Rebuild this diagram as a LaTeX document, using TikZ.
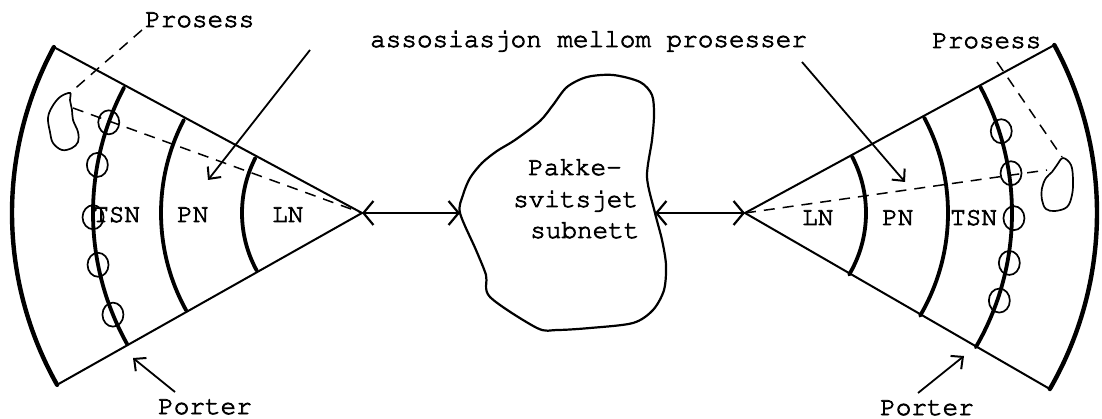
\documentclass[tikz,border=0pt]{standalone}
\usepackage[T1]{fontenc}
\usepackage{courier}
\renewcommand{\familydefault}{\ttdefault}
\usetikzlibrary{arrows.meta}
% typewriter text with a slightly heavier stroke
\newcommand{\typed}[1]{\special{pdf:literal direct 2 Tr 0.75 w}#1\special{pdf:literal direct 0 Tr}}
\begin{document}
\begin{tikzpicture}[x=1pt,y=-1pt,
  edge/.style={line width=2pt, line cap=round},
  layer/.style={line width=3.8pt, line cap=round},
  rim/.style={line width=4.4pt, line cap=round},
  port/.style={line width=1.7pt},
  link/.style={dash pattern=on 11pt off 8pt, line width=1.5pt},
  pointer/.style={line width=1.8pt, -{Straight Barb[length=9pt,width=17pt,line width=2pt]}},
  bus/.style={line width=2.2pt, {Straight Barb[length=10pt,width=24pt,line width=2.2pt]}-{Straight Barb[length=10pt,width=24pt,line width=2.2pt]}},
  lbl/.style={inner sep=0pt, font=\fontsize{26}{31.5}\selectfont, anchor=base west},
]
\useasboundingbox (0,0) rectangle (1102,419);

% ---------- left sector (apex LA) ----------
\coordinate (LA) at (362,213);
\coordinate (LU) at ({362+350*cos(208.3)},{213+350*sin(208.3)});
\coordinate (LD) at ({362+350*cos(150.6)},{213+350*sin(150.6)});
\draw[edge] (LU) -- (LA) -- (LD);
\draw[rim] plot[domain=208.3:150.6, samples=60] ({362+350*cos(\x)},{213+350*sin(\x)});
\draw[layer] plot[domain=207.8:150.8, samples=60] ({362+269*cos(\x)},{213+269*sin(\x)});
\draw[layer] plot[domain=207.6:151.0, samples=50] ({362+201*cos(\x)},{213+201*sin(\x)});
\draw[layer] plot[domain=207.3:151.3, samples=40] ({362+120*cos(\x)},{213+120*sin(\x)});
\foreach \a in {199.7,190.3,179.1,168.9,157.8}
  \draw[port] ({362+269*cos(\a)},{213+269*sin(\a)}) ellipse [x radius=10.5pt, y radius=12pt];

% process blob, left
\draw[port] plot[smooth cycle, tension=0.6] coordinates {
  (70,93) (60,97) (52,107) (48,118) (50,132) (53,143) (62,150)
  (72,148) (78,142) (78,132) (73,120) (72,110) (70,100)};
\coordinate (LB) at (73,108);
\coordinate (LBt) at (70,93);

% ---------- right sector (apex RA) ----------
\coordinate (RA) at (745,213);
\coordinate (RU) at ({745+352*cos(-28.5)},{213+352*sin(-28.5)});
\coordinate (RD) at ({745+352*cos(30)},{213+352*sin(30)});
\draw[edge] (RU) -- (RA) -- (RD);
\draw[rim] plot[domain=-28.5:30, samples=60] ({745+352*cos(\x)},{213+352*sin(\x)});
\draw[layer] plot[domain=-28.2:30.2, samples=60] ({745+267*cos(\x)},{213+267*sin(\x)});
\draw[layer] plot[domain=-28.0:30.4, samples=50] ({745+203*cos(\x)},{213+203*sin(\x)});
\draw[layer] plot[domain=-27.8:30.6, samples=40] ({745+121*cos(\x)},{213+121*sin(\x)});
\foreach \a in {-17.7,-8.5,1.1,10.7,19}
  \draw[port] ({745+269*cos(\a)},{213+269*sin(\a)}) ellipse [x radius=10.5pt, y radius=12pt];

% process blob, right
\draw[port] plot[smooth cycle, tension=0.6] coordinates {
  (1063,158) (1071,165) (1073,180) (1072,195) (1067,207) (1055,211)
  (1046,209) (1042,200) (1042,188) (1046,178) (1052,172) (1057,165)};
\coordinate (RB) at (1047,170);
\coordinate (RBt) at (1062,157);

% ---------- packet switched subnet ----------
\draw[line width=2.2pt] plot[smooth cycle, tension=0.5] coordinates {
  (587,77) (613,75) (640,82) (652,95) (654,115) (652,140) (647,177)
  (655,213) (662,240) (666,265) (664,290) (653,310) (633,323) (590,328)
  (557,330) (537,328) (490,297) (486,275) (476,250) (460,213) (463,195)
  (470,178) (482,163) (497,151) (515,140) (540,121) (553,105) (567,87)};
\coordinate (CL) at (460,213);
\coordinate (CR) at (655,213);
\node[lbl] (net1) at (528,175) {\typed{Pakke-}};
\node[lbl] (net2) at (513,207) {\typed{svitsjet}};
\node[lbl] (net3) at (530,238) {\typed{subnett}};

% ---------- links ----------
\draw[bus] (LA) -- (CL);
\draw[bus] (CR) -- (RA);

% ---------- labels ----------
\node[lbl] (assoc) at (370,47) {\typed{assosiasjon mellom prosesser}};
\node[lbl] (procL) at (145,27) {\typed{Prosess}};
\node[lbl] (procR) at (932,48) {\typed{Prosess}};
\node[lbl] (portL) at (158,414) {\typed{Porter}};
\node[lbl] (portR) at (880,415) {\typed{Porter}};
\node[lbl] (tsnL) at (93,222) {\typed{TSN}};
\node[lbl] (pnL) at (177,222) {\typed{PN}};
\node[lbl] (lnL) at (272,222) {\typed{LN}};
\node[lbl] (lnR) at (802,225) {\typed{LN}};
\node[lbl] (pnR) at (882,225) {\typed{PN}};
\node[lbl] (tsnR) at (950,225) {\typed{TSN}};

% ---------- dashed process associations ----------
\coordinate (pLs) at (142,30);
\coordinate (pRs) at (997,62);
\draw[link] (pLs) -- (LBt);
\draw[link] (LB) -- (LA);
\draw[link] (pRs) -- (RBt);
\draw[link] (RA) -- (RB);

% ---------- pointers ----------
\coordinate (aL) at (310,50);
\coordinate (aLt) at (208,180);
\coordinate (aR) at (802,62);
\coordinate (aRt) at (905,182);
\draw[pointer] (aL) -- (aLt);
\draw[pointer] (aR) -- (aRt);
\coordinate (oL) at (175,392);
\coordinate (oLt) at (133,358);
\coordinate (oR) at (918,393);
\coordinate (oRt) at (964,356);
\draw[pointer] (oL) -- (oLt);
\draw[pointer] (oR) -- (oRt);
\end{tikzpicture}
\end{document}
